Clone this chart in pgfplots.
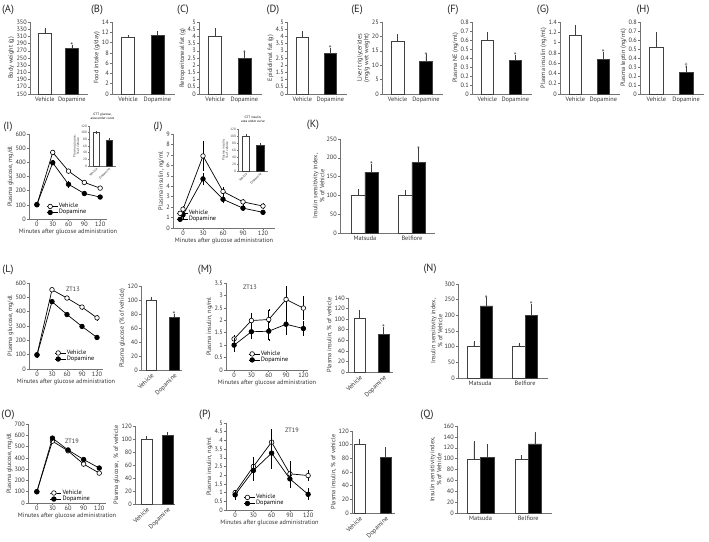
\documentclass[border=0pt]{standalone}
\usepackage{pgfplots}
\pgfplotsset{compat=1.18}
\usepackage{fontspec}
\setmainfont{PT Sans}

\newcommand{\fs}{\fontsize{6.3}{6.9}\selectfont}
\newcommand{\fl}{\fontsize{10.5}{12}\selectfont}
\newcommand{\ft}{\fontsize{3.3}{3.7}\selectfont}

\tikzset{ast/.style={font=\fontsize{8}{8}\selectfont, anchor=south, inner sep=0pt, yshift=-2.8bp, text=black!80}}

\pgfplotsset{
  panel/.style n args={4}{scale only axis, at={(#1bp,-#2bp)}, anchor=south west,
    width=#3bp, height=#4bp, clip mode=individual,
    axis x line*=bottom, axis y line*=left,
    axis line style={black!55, line width=0.5bp},
    tick style={black!55, line width=0.5bp}, tick align=outside, major tick length=2bp,
    ticklabel style={font=\fs, text=black!80, inner sep=1bp},
    label style={font=\fs, text=black!80, align=center, inner sep=1bp},
    /pgf/number format/assume math mode=true, ymin=0},
  twobars/.style={xmin=-0.55, xmax=1.6, xtick={0,1}, xticklabels={Vehicle,Dopamine},
    x tick style={draw=none}},
  rotbars/.style={xtick={0,1}, xticklabels={Vehicle,Dopamine}, x tick style={draw=none},
    xticklabel style={rotate=45, anchor=north east, inner sep=0.5bp}},
  groups/.style={xmin=0.5, xmax=2.5, xtick={1,2}, xticklabels={Matsuda,Belfiore},
    x tick style={draw=none}},
  inset/.style={ticklabel style={font=\ft}, label style={font=\ft},
    title style={font=\ft, align=center, inner sep=0.5bp},
    major tick length=1bp, xmin=-0.55, xmax=1.55, ymax=120, ytick={0,20,...,120},
    xtick={0,1}, xticklabels={Vehicle,Dopamine}, x tick style={draw=none},
    xticklabel style={rotate=45, anchor=north east, inner sep=0.3bp}},
  vbar/.style={ybar, bar shift=0pt, bar width=#1, draw=black!75, line width=0.6bp,
    error bars/y dir=plus, error bars/y explicit,
    error bars/error bar style={black!75, line width=0.5bp},
    error bars/error mark options={black!75, mark size=1.2bp}},
  vbar/.default=0.45,
  lineplot/.style={black, line width=0.7bp, mark=*, mark size=2.3bp,
    error bars/y dir=both, error bars/y explicit,
    error bars/error bar style={black, line width=0.5bp},
    error bars/error mark options={mark size=1bp}},
  veh/.style={lineplot, mark options={fill=white, draw=black, line width=0.6bp}},
  dop/.style={lineplot, mark options={fill=black, draw=black}},
  timeaxis/.style={xtick={0,30,...,120}, xlabel={Minutes after glucose administration},
    legend cell align=left,
    legend style={draw=none, fill=none, font=\fs, inner sep=0pt, row sep=-1.5bp,
      nodes={inner sep=0.8bp}},
    legend image code/.code={\draw[mark repeat=2, mark phase=2, ##1]
      plot coordinates {(0bp,0bp) (3.5bp,0bp) (11bp,0bp)};}},
}

\begin{document}
\begin{tikzpicture}
\path[use as bounding box] (0,0) rectangle (709bp,-542bp);

% ---- top row
\begin{axis}[panel={30}{94}{58}{72}, twobars, ymin=150, ymax=350, ytick={150,170,...,350},
  ylabel={Body weight (g)}]
\addplot[vbar, fill=white] coordinates {(0,320) +- (0,11)};
\addplot[vbar, fill=black] coordinates {(1,277) +- (0,7)};
\node[ast] at (axis cs:1,284) {*};
\end{axis}

\begin{axis}[panel={112}{94}{63}{72}, twobars, ymax=14, ytick={0,2,...,14},
  ylabel={Food intake (g/day)}]
\addplot[vbar, fill=white] coordinates {(0,11.1) +- (0,0.2)};
\addplot[vbar, fill=black] coordinates {(1,11.4) +- (0,0.6)};
\end{axis}

\begin{axis}[panel={199}{94}{63}{72}, twobars, ymax=5, ytick={0,0.5,1,1.5,2,2.5,3,3.5,4,4.5,5},
  ylabel={Retroperitoneal fat (g)}]
\addplot[vbar, fill=white] coordinates {(0,4.0) +- (0,0.5)};
\addplot[vbar, fill=black] coordinates {(1,2.5) +- (0,0.3)};
\node[ast] at (axis cs:1,2.8) {*};
\end{axis}

\begin{axis}[panel={287}{94}{60}{72}, twobars, ymax=5, ytick={0,0.5,1,1.5,2,2.5,3,3.5,4,4.5,5},
  ylabel={Epididimal fat (g)}]
\addplot[vbar, fill=white] coordinates {(0,3.95) +- (0,0.35)};
\addplot[vbar, fill=black] coordinates {(1,2.8) +- (0,0.3)};
\node[ast] at (axis cs:1,3.1) {*};
\end{axis}

\begin{axis}[panel={382}{94}{61}{72}, twobars, ymax=25, ytick={0,5,...,25},
  ylabel={Liver triglycerides\\(mg/g wet weight)}]
\addplot[vbar, fill=white] coordinates {(0,18.2) +- (0,2.1)};
\addplot[vbar, fill=black] coordinates {(1,11.2) +- (0,2.1)};
\node[ast] at (axis cs:1,13.3) {*};
\end{axis}

\begin{axis}[panel={472}{94}{60}{72}, twobars, ymax=0.8, ytick={0,0.1,0.2,0.3,0.4,0.5,0.6,0.7,0.8},
  ylabel={Plasma NE (ng/ml)}]
\addplot[vbar, fill=white] coordinates {(0,0.6) +- (0,0.08)};
\addplot[vbar, fill=black] coordinates {(1,0.38) +- (0,0.04)};
\node[ast] at (axis cs:1,0.42) {*};
\end{axis}

\begin{axis}[panel={560}{94}{60}{72}, twobars, ymax=1.4, ytick={0,0.2,0.4,0.6,0.8,1,1.2,1.4},
  ylabel={Plasma insulin (ng/ml)}]
\addplot[vbar, fill=white] coordinates {(0,1.15) +- (0,0.17)};
\addplot[vbar, fill=black] coordinates {(1,0.68) +- (0,0.12)};
\node[ast] at (axis cs:1,0.8) {*};
\end{axis}

\begin{axis}[panel={640}{94}{64}{72}, twobars, ymax=0.8, ytick={0,0.1,0.2,0.3,0.4,0.5,0.6,0.7,0.8},
  ylabel={Plasma leptin (ng/ml)}]
\addplot[vbar, fill=white] coordinates {(0,0.52) +- (0,0.16)};
\addplot[vbar, fill=black] coordinates {(1,0.24) +- (0,0.06)};
\node[ast, font=\fs, yshift=0.5bp] at (axis cs:1,0.30) {\textdagger};
\end{axis}

% ---- second row
\begin{axis}[panel={29}{219}{78}{85}, timeaxis, xmin=-15, xmax=133, ymax=600, ytick={0,100,...,600},
  ylabel={Plasma glucose, mg/dl}, legend style={at={(0.22,0.03)}, anchor=south west}]
\addplot[veh] coordinates {(0,100) +- (0,5) (30,470) +- (0,12) (60,338) +- (0,10) (90,258) +- (0,8) (120,218) +- (0,8)};
\addplot[dop] coordinates {(0,102) +- (0,8) (30,397) +- (0,10) (60,245) +- (0,18) (90,180) +- (0,8) (120,155) +- (0,8)};
\legend{Vehicle,Dopamine}
\end{axis}

\begin{axis}[panel={89}{166}{27}{40}, inset, title={GTT glucose,\\area under curve},
  ylabel={Plasma glucose,\\\% of vehicle}]
\addplot[vbar=0.5, fill=white, line width=0.4bp] coordinates {(0,100) +- (0,1)};
\addplot[vbar=0.5, fill=black, line width=0.4bp] coordinates {(1,78) +- (0,2)};
\node[ast, font=\ft, yshift=-0.5bp] at (axis cs:1,80) {*};
\end{axis}

\begin{axis}[panel={173}{228}{102}{94}, timeaxis, xmin=-15, xmax=138, ymax=9, ytick={0,1,...,9},
  ylabel={Plasma insulin, ng/ml}, legend style={at={(0.03,0.05)}, anchor=south west}]
\addplot[veh] coordinates {(0,1.8) +- (0,0.2) (30,6.9) +- (0,1.3) (60,3.5) +- (0,0.3) (90,2.5) +- (0,0.2) (120,2.1) +- (0,0.2)};
\addplot[dop] coordinates {(0,1.25) +- (0,0.3) (30,4.7) +- (0,0.5) (60,2.75) +- (0,0.3) (90,1.9) +- (0,0.2) (120,1.5) +- (0,0.15)};
\legend{Vehicle,Dopamine}
\end{axis}

\begin{axis}[panel={238}{171}{30}{42}, inset, title={GTT insulin,\\area under curve},
  ylabel={Plasma insulin,\\\% of vehicle}]
\addplot[vbar=0.5, fill=white, line width=0.4bp] coordinates {(0,100) +- (0,1)};
\addplot[vbar=0.5, fill=black, line width=0.4bp] coordinates {(1,75) +- (0,2)};
\node[ast, font=\ft, yshift=-0.5bp] at (axis cs:1,77) {*};
\end{axis}

\begin{axis}[panel={340}{233}{95}{94}, groups, xmin=0.47, xmax=2.49, ymax=250, ytick={0,50,...,250},
  ylabel={Insulin sensitivity index,\\\% of Vehicle}]
\addplot[vbar=0.28, fill=white] coordinates {(0.86,100) +- (0,13) (1.86,100) +- (0,10)};
\addplot[vbar=0.28, fill=black] coordinates {(1.14,162) +- (0,18) (2.14,188) +- (0,34)};
\node[ast] at (axis cs:1.14,180) {*};
\node[ast] at (axis cs:2.14,222) {*};
\end{axis}

% ---- third row
\begin{axis}[panel={29}{369}{74}{86}, timeaxis, xmin=-16, xmax=132, ymax=600, ytick={0,100,...,600},
  ylabel={Plasma glucose, mg/dl}, legend style={at={(0.34,0.07)}, anchor=south west}]
\addplot[veh] coordinates {(0,100) +- (0,6) (30,553) +- (0,8) (60,495) +- (0,8) (90,432) +- (0,10) (120,357) +- (0,15)};
\addplot[dop] coordinates {(0,97) +- (0,15) (30,470) +- (0,8) (60,380) +- (0,10) (90,297) +- (0,10) (120,220) +- (0,10)};
\legend{Vehicle,Dopamine}
\end{axis}

\begin{axis}[panel={141}{370}{41}{84}, rotbars, xmin=-0.43, xmax=1.35, ymax=120, ytick={0,20,...,120},
  ylabel={Plasma glucose (\% of vehicle)}]
\addplot[vbar=0.43, fill=white] coordinates {(0,100) +- (0,3)};
\addplot[vbar=0.43, fill=black] coordinates {(1,76) +- (0,3)};
\node[ast] at (axis cs:1,79) {*};
\end{axis}

\begin{axis}[panel={226}{370}{82}{87}, timeaxis, xmin=-14, xmax=128, ymax=3.5, ytick={0,0.5,1,1.5,2,2.5,3,3.5},
  ylabel={Plasma insulin, ng/ml}, legend style={at={(0.27,0.07)}, anchor=south west}]
\addplot[veh] coordinates {(0,1.25) +- (0,0.1) (30,1.99) +- (0,0.27) (60,2.03) +- (0,0.37) (90,2.84) +- (0,0.49) (120,2.49) +- (0,0.44)};
\addplot[dop] coordinates {(0,1.0) +- (0,0.24) (30,1.54) +- (0,0.27) (60,1.56) +- (0,0.36) (90,1.84) +- (0,0.4) (120,1.67) +- (0,0.27)};
\legend{Vehicle,Dopamine}
\end{axis}

\begin{axis}[panel={348}{372}{45}{74}, rotbars, xmin=-0.48, xmax=1.4, ymax=140, ytick={0,20,...,140},
  ylabel={Plasma insulin, \% of vehicle}]
\addplot[vbar=0.46, fill=white] coordinates {(0,101) +- (0,14)};
\addplot[vbar=0.46, fill=black] coordinates {(1,72) +- (0,11)};
\node[ast] at (axis cs:1,83) {*};
\end{axis}

\begin{axis}[panel={458}{378}{90}{94}, groups, xmin=0.51, xmax=2.51, ymax=300, ytick={0,50,...,300},
  ylabel={Insulin sensitivity index,\\\% of Vehicle}]
\addplot[vbar=0.28, fill=white] coordinates {(0.86,100) +- (0,14) (1.86,100) +- (0,8)};
\addplot[vbar=0.28, fill=black] coordinates {(1.14,230) +- (0,24) (2.14,199) +- (0,33)};
\node[ast] at (axis cs:1.14,254) {*};
\node[ast] at (axis cs:2.14,232) {*};
\end{axis}

% ---- fourth row
\begin{axis}[panel={28}{503}{78}{79}, timeaxis, xmin=-17, xmax=133, ymax=700, ytick={0,100,...,700},
  ylabel={Plasma glucose, mg/dl}, legend style={at={(0.28,0.0)}, anchor=south west}]
\addplot[veh] coordinates {(0,100) +- (0,5) (30,548) +- (0,10) (60,462) +- (0,10) (90,345) +- (0,15) (120,265) +- (0,12)};
\addplot[dop] coordinates {(0,100) +- (0,5) (30,575) +- (0,10) (60,470) +- (0,10) (90,385) +- (0,12) (120,310) +- (0,10)};
\legend{Vehicle,Dopamine}
\end{axis}

\begin{axis}[panel={135}{504}{40}{78}, rotbars, xmin=-0.55, xmax=1.36, ymax=120, ytick={0,20,...,120},
  ylabel={Plasma glucose,~ \% of vehicle}]
\addplot[vbar=0.52, fill=white] coordinates {(0,100) +- (0,3)};
\addplot[vbar=0.52, fill=black] coordinates {(1,106) +- (0,3)};
\end{axis}

\begin{axis}[panel={226}{510}{87}{87}, timeaxis, xmin=-15, xmax=128, ymax=5, ytick={0,0.5,1,1.5,2,2.5,3,3.5,4,4.5,5},
  ylabel={Plasma insulin, ng/ml}, legend style={at={(0.2,0.03)}, anchor=south west}]
\addplot[veh] coordinates {(0,1.0) +- (0,0.1) (30,2.5) +- (0,0.48) (60,3.9) +- (0,0.7) (90,2.08) +- (0,0.67) (120,1.98) +- (0,0.25)};
\addplot[dop] coordinates {(0,0.87) +- (0,0.25) (30,2.27) +- (0,0.54) (60,3.27) +- (0,0.85) (90,1.79) +- (0,0.48) (120,0.9) +- (0,0.28)};
\legend{Vehicle,Dopamine}
\end{axis}

\begin{axis}[panel={352}{513}{43}{82}, rotbars, xmin=-0.29, xmax=1.37, ymax=120, ytick={0,20,...,120},
  ylabel={Plasma insulin, \% of vehicle}]
\addplot[vbar=0.42, fill=white] coordinates {(0,100) +- (0,6)};
\addplot[vbar=0.42, fill=black] coordinates {(1,81) +- (0,14)};
\end{axis}

\begin{axis}[panel={457}{513}{95}{87}, groups, xmin=0.505, xmax=2.5, ymax=160, ytick={0,20,...,160},
  ylabel={Insulin sensitivity index,\\\% of Vehicle}]
\addplot[vbar=0.28, fill=white] coordinates {(0.86,98) +- (0,32) (1.86,98) +- (0,6)};
\addplot[vbar=0.28, fill=black] coordinates {(1.14,102) +- (0,23) (2.14,127) +- (0,19)};
\end{axis}

% ---- annotations
\foreach \x/\y/\t in {8/10/A, 97/10/B, 183/10/C, 273/10/D, 357/10/E, 453/10/F, 543/10/G, 643/10/H,
  8/127/I, 158/127/J, 313/125/K, 8/270/L, 205/270/M, 430/269/N, 8/415/O, 205/415/P, 427/415/Q}
  \node[font=\fl, text=black!85] at (\x bp,-\y bp) {(\t)};
\node[font=\fs, text=black!80] at (73bp,-289bp) {ZT13};
\node[font=\fs, text=black!80] at (250bp,-287bp) {ZT13};
\node[font=\fs, text=black!80] at (72bp,-441bp) {ZT19};
\node[font=\fs, text=black!80] at (292bp,-430bp) {ZT19};
\end{tikzpicture}
\end{document}
